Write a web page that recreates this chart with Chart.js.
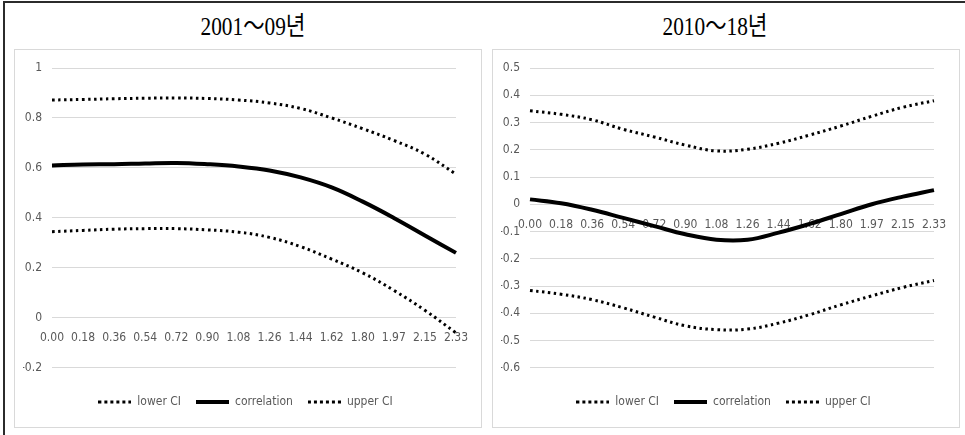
<!DOCTYPE html>
<html>
<head>
<meta charset="utf-8">
<script src="https://cdn.jsdelivr.net/npm/chart.js@4"></script>
<style>
  body { margin: 0; background: #fff; width: 965px; height: 435px; position: relative; overflow: hidden; }
  .frame { position: absolute; left: 3px; top: 1px; width: 970px; height: 440px; border-top: 2px solid #2b2b2b; border-left: 2px solid #2b2b2b; }
  .title { position: absolute; top: 12px; width: 200px; text-align: center; font-family: "Liberation Serif", "Noto Sans CJK KR", serif; font-size: 26px; color: #000; transform: scaleX(0.82); line-height: 30px; }
  .panel { position: absolute; top: 49px; width: 468px; height: 379px; box-sizing: border-box; border: 1px solid #d9d9d9; }
  .panel canvas { position: absolute; left: 0; top: 0; }
</style>
</head>
<body>
<div class="frame"></div>
<div class="title" style="left:153px">2001～09년</div>
<div class="title" style="left:615px">2010～18년</div>
<div class="panel" style="left:14px"><canvas id="chartA" width="466" height="377"></canvas></div>
<div class="panel" style="left:492px"><canvas id="chartB" width="466" height="377"></canvas></div>
<script>
const labels = ["0.00", "0.18", "0.36", "0.54", "0.72", "0.90", "1.08", "1.26", "1.44", "1.62", "1.80", "1.97", "2.15", "2.33"];

// 2001~09
const lowerA = [0.345, 0.35, 0.355, 0.357, 0.357, 0.352, 0.343, 0.322, 0.285, 0.235, 0.18, 0.11, 0.03, -0.06];
const corrA = [0.61, 0.614, 0.615, 0.618, 0.62, 0.615, 0.606, 0.59, 0.562, 0.522, 0.465, 0.40, 0.33, 0.26];
const upperA = [0.872, 0.874, 0.877, 0.879, 0.88, 0.878, 0.872, 0.86, 0.838, 0.80, 0.757, 0.71, 0.655, 0.575];

// 2010~18
const lowerB = [-0.316, -0.33, -0.35, -0.38, -0.414, -0.446, -0.46, -0.458, -0.436, -0.405, -0.369, -0.336, -0.305, -0.28];
const corrB = [0.018, 0.004, -0.02, -0.05, -0.08, -0.11, -0.13, -0.13, -0.104, -0.072, -0.036, 0.0, 0.028, 0.052];
const upperB = [0.343, 0.33, 0.31, 0.275, 0.247, 0.217, 0.196, 0.202, 0.224, 0.254, 0.287, 0.323, 0.356, 0.38];

const yRangeA = { min: -0.2, max: 1, step: 0.2 };
const yRangeB = { min: -0.6, max: 0.5, step: 0.1 };

const tickFont = { family: "'Liberation Sans Narrow', 'DejaVu Sans Condensed', 'Liberation Sans', sans-serif", size: 12 };
const tickColor = "#595959";

// little legend swatches (the built-in 'line' point style ignores the dash)
function swatch(dottedLine) {
  const c = document.createElement("canvas");
  c.width = 33;
  c.height = 6;
  const ctx = c.getContext("2d");
  ctx.fillStyle = "#000";
  if (dottedLine) {
    for (let x = 0; x < 33; x += 6) ctx.fillRect(x, 1.5, 3, 3);
  } else {
    ctx.fillRect(0, 1, 33, 4);
  }
  return c;
}
const dotSwatch = swatch(true);
const solidSwatch = swatch(false);

function dotted(label, data) {
  return {
    label,
    data,
    borderColor: "#000",
    backgroundColor: "#000",
    borderWidth: 3,
    borderDash: [2.5, 3.5],
    pointRadius: 0,
    pointStyle: dotSwatch,
    tension: 0.4,
    fill: false,
  };
}

function makeChart(id, lower, corr, upper, range) {
  return new Chart(document.getElementById(id), {
    type: "line",
    data: {
      labels,
      datasets: [
        dotted("lower CI", lower),
        {
          label: "correlation",
          data: corr,
          borderColor: "#000",
          backgroundColor: "#000",
          borderWidth: 4,
          pointRadius: 0,
          pointStyle: solidSwatch,
          tension: 0.4,
          fill: false,
        },
        dotted("upper CI", upper),
      ],
    },
    options: {
      responsive: false,
      animation: false,
      layout: { padding: { left: 8, right: 13, top: 18, bottom: 9 } },
      plugins: {
        tooltip: { enabled: false },
        legend: {
          position: "bottom",
          title: { display: true, text: "", font: { size: 1 }, padding: { top: 12, bottom: 0 } },
          labels: {
            usePointStyle: true,
            pointStyleWidth: 33,
            padding: 15,
            color: tickColor,
            font: tickFont,
          },
        },
      },
      scales: {
        x: {
          position: { y: 0 },
          grid: { display: false, drawTicks: false },
          border: { display: false },
          ticks: { color: tickColor, font: tickFont, padding: 13, maxRotation: 0, autoSkip: false },
          afterFit: (scale) => { scale.height = 0; },
        },
        y: {
          min: range.min,
          max: range.max,
          grid: { color: "#d9d9d9", lineWidth: 1, drawTicks: false },
          border: { display: false },
          ticks: {
            stepSize: range.step,
            color: tickColor,
            font: tickFont,
            padding: 10,
            callback: (v) => String(+v.toFixed(1)),
          },
          afterFit: (scale) => { scale.width = 29; },
        },
      },
    },
  });
}

makeChart("chartA", lowerA, corrA, upperA, yRangeA);
makeChart("chartB", lowerB, corrB, upperB, yRangeB);
</script>
</body>
</html>
